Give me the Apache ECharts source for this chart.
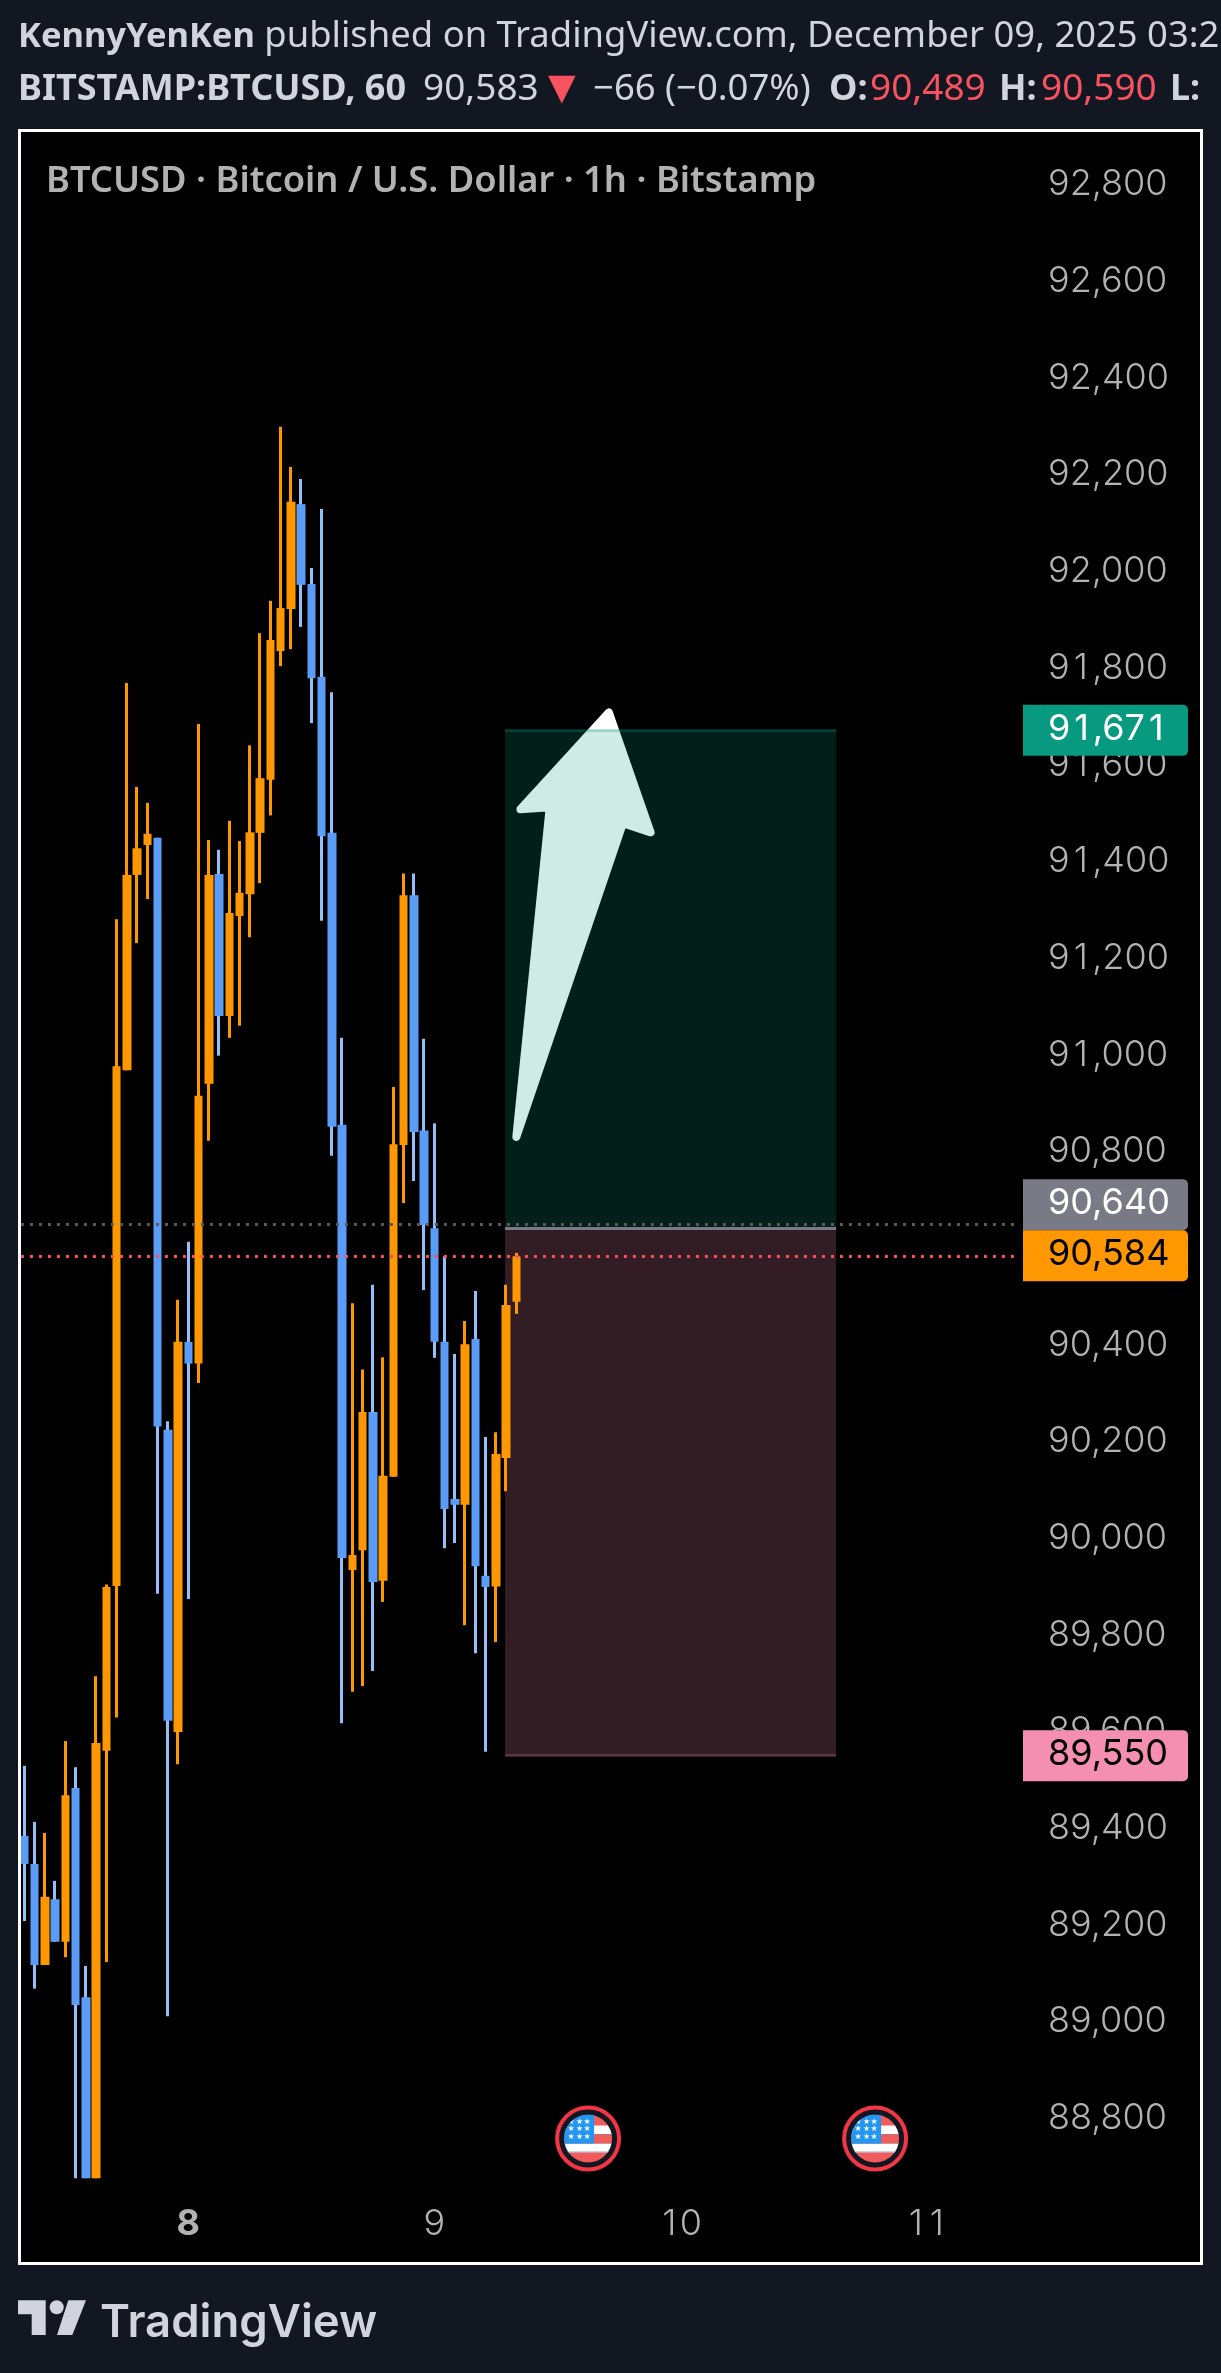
<!DOCTYPE html>
<html>
<head>
<meta charset="utf-8">
<title>BTCUSD</title>
<script src="https://cdn.jsdelivr.net/npm/echarts@6/dist/echarts.min.js"></script>
<style>
  html, body { margin: 0; padding: 0; background: #131722; }
  #main { width: 1221px; height: 2373px; }
</style>
</head>
<body>
<div id="main"></div>
<script>
// hourly candles
var opens  = [89384,89326,89117,89253,89165,89483,89050,88676,89560,89901,90968,91372,91434,91449,90224,89599,90406,90361,90940,91374,91080,91287,91332,91459,91569,91835,91922,92139,91974,91782,91459,90855,89934,89975,90261,89912,90127,90813,91330,90843,90641,90406,90081,90069,90412,89922,89900,90166,90489];
var highs  = [89529,89413,89390,89291,89580,89526,89115,89714,89904,91280,91769,91554,91521,91449,90242,90493,90613,91684,91444,91424,91484,91442,91640,91872,91939,92299,92216,92191,92007,92129,91750,91035,90486,90349,90524,90374,90933,91375,91375,91033,90858,90583,90381,90449,90511,90209,90219,90524,90590];
var lows   = [89208,89068,89117,89165,89133,88676,88676,88676,89123,89629,90968,91231,91322,89885,89011,89532,89874,90321,90822,90998,91035,91060,91243,91355,91495,91804,91839,91885,91686,91277,90791,89617,89682,89694,89725,89868,90127,90693,90739,90513,90373,89979,89990,89820,89762,89558,89785,90097,90464];
var closes = [89326,89117,89258,89165,89468,89034,88676,89576,89899,90976,91372,91427,91457,90231,89622,90406,90361,90915,91372,91080,91293,91335,91460,91572,91858,91924,92144,91972,91779,91452,90851,89959,89965,90261,89909,90129,90815,91330,90840,90648,90406,90060,90069,90401,89942,89899,90174,90482,90583];

var dayTicks  = [16, 40, 64, 88];
var dayLabels = ['8', '9', '10', '11'];

// long position drawing
var zoneStart = 46.9, zoneEnd = 79.2;
var targetPrice = 91671, entryPrice = 90640, stopPrice = 89550;
var lastPrice = 90583, prevClose = 90650;

// hand drawn arrow, [hour, price]
var arrowPoints = [[57.03,91708],[61.1,91460],[58.4,91479],[48.0,90830],[51.26,91512],[48.4,91508]];

var eventHours = [55, 83];

var boxPrices = [91671, 90640, 90584, 89550];
var boxTexts  = ['91,671', '90,640', '90,584', '89,550'];
var boxFills  = ['#089981', '#787b86', '#ff9800', '#f48fb1'];
var boxInks   = ['#ffffff', '#ffffff', '#000000', '#000000'];
var boxShift  = [0, -24, 0, 0];

var pageBg = '#131722';
var headInk = '#d1d4dc';
var axisInk = '#b2b2b2';
var orange = '#ff9800', blue = '#5b9cf6', blueWick = '#90bff9';
var red = '#f7525f';

var wickData = opens.map(function (o, i) { return [i, o, closes[i], lows[i], highs[i]]; });
var bodyData = opens.map(function (o, i) {
  return [i, o, closes[i], Math.min(o, closes[i]), Math.max(o, closes[i])];
});

// Inter's 1 is narrow, the scale in the picture has equal width digits
function wideOnes(s) { return s.replace(/1/g, '{o|1}'); }

function renderArrow(params, api) {
  var pts = arrowPoints.map(function (p) { return api.coord(p); });
  return {
    type: 'polygon',
    shape: { points: pts },
    style: { fill: '#ffffff', stroke: '#ffffff', lineWidth: 8, lineJoin: 'round' }
  };
}

function renderBox(params, api) {
  var i = params.dataIndex;
  var y = api.coord([0, boxPrices[i]])[1] + boxShift[i];
  return {
    type: 'group',
    children: [
      { type: 'rect', shape: { x: 1023, y: y - 25.5, width: 165, height: 51, r: [0, 5, 5, 0] }, style: { fill: boxFills[i] } },
      {
        type: 'text',
        style: {
          text: wideOnes(boxTexts[i]), x: 1048, y: y - 1.5, fill: boxInks[i], font: '400 36px Inter', align: 'left', verticalAlign: 'middle',
          rich: { o: { width: 22.5, align: 'center', fill: boxInks[i], font: '400 36px Inter' } }
        }
      }
    ]
  };
}

function renderFlag(params, api) {
  var cx = api.coord([eventHours[params.dataIndex], 90000])[0];
  var cy = 2138.6;
  var stripes = [
    [-24, -24, 48, 12, '#f15b5b'], [-24, -13, 48, 9, '#ffffff'], [-24, -4, 48, 9, '#f15b5b'],
    [-24, 5, 48, 9, '#ffffff'], [-24, 14, 48, 11, '#f15b5b'], [-24, 12.5, 48, 1.5, '#d1d4dc'],
    [-24, -24, 30, 29, '#2196f3']
  ];
  var kids = stripes.map(function (s) {
    return { type: 'rect', shape: { x: cx + s[0], y: cy + s[1], width: s[2], height: s[3] }, style: { fill: s[4] } };
  });
  [-17, -8.5, -1].forEach(function (dx) {
    [-17, -9.4, -1.7].forEach(function (dy) {
      kids.push({ type: 'text', style: { text: '\u2605', x: cx + dx, y: cy + dy, fill: '#ffffff', font: '8px "DejaVu Sans"', align: 'center', verticalAlign: 'middle' } });
    });
  });
  return {
    type: 'group',
    children: [
      { type: 'circle', shape: { cx: cx, cy: cy, r: 31 }, style: { fill: pageBg, stroke: '#f23645', lineWidth: 4 } },
      { type: 'group', children: kids, clipPath: { type: 'circle', shape: { cx: cx, cy: cy, r: 24 } } }
    ]
  };
}

function headPart(x, text, font, fill) {
  return { type: 'text', x: x, y: 89.5, style: { text: text, font: font, fill: fill, verticalAlign: 'middle' } };
}

var boldFont = '700 36px "Noto Sans"', thinFont = '400 37px "Noto Sans"';

var option = {
  animation: false,
  backgroundColor: pageBg,
  grid: { left: 14.05, top: 87.92, width: 1000.45, height: 2126.96 },
  xAxis: {
    type: 'value',
    min: -1,
    max: 96.6,
    splitLine: { show: false },
    axisLine: { show: false },
    axisTick: { show: false },
    axisLabel: {
      customValues: dayTicks,
      margin: 9,
      verticalAlign: 'middle',
      color: axisInk,
      fontFamily: 'Inter',
      fontWeight: 350,
      fontSize: 36,
      formatter: function (v) {
        var s = dayLabels[dayTicks.indexOf(v)];
        return v === dayTicks[0] ? '{b|' + s + '}' : wideOnes(s);
      },
      rich: {
        b: { fontFamily: 'Inter', fontSize: 36, fontWeight: 'bold', color: axisInk },
        o: { fontFamily: 'Inter', fontSize: 36, fontWeight: 350, color: axisInk, width: 21, align: 'center' }
      }
    }
  },
  yAxis: {
    type: 'value',
    position: 'right',
    min: 88600,
    max: 93000,
    interval: 200,
    splitLine: { show: false },
    axisLine: { show: false },
    axisTick: { show: false },
    axisLabel: {
      showMinLabel: false,
      showMaxLabel: false,
      margin: 33.5,
      align: 'left',
      verticalAlign: 'middle',
      color: axisInk,
      fontFamily: 'Inter',
      fontWeight: 350,
      fontSize: 36,
      // 90,600 sits fully behind the price boxes
      formatter: function (v) { return v === 90600 ? '' : wideOnes(v.toLocaleString('en-US')); },
      rich: { o: { fontFamily: 'Inter', fontSize: 36, fontWeight: 350, color: axisInk, width: 22.5, align: 'center' } }
    }
  },
  series: [
    { type: 'custom', name: 'arrow', z: 0, silent: true, renderItem: renderArrow, data: [[zoneStart, entryPrice]] },
    {
      type: 'candlestick',
      name: 'wicks',
      z: 2,
      barWidth: 1,
      encode: { x: 0, y: [1, 2, 3, 4] },
      itemStyle: { color: orange, color0: blueWick, borderColor: orange, borderColor0: blueWick, borderWidth: 3 },
      data: wickData,
      markArea: {
        silent: true,
        z: 1,
        data: [
          [{ xAxis: zoneStart, yAxis: targetPrice, itemStyle: { color: 'rgba(8,153,129,0.2)' } }, { xAxis: zoneEnd, yAxis: entryPrice }],
          [{ xAxis: zoneStart, yAxis: entryPrice, itemStyle: { color: 'rgba(244,143,177,0.2)' } }, { xAxis: zoneEnd, yAxis: stopPrice }]
        ]
      },
      markLine: {
        silent: true,
        z: 1,
        symbol: 'none',
        label: { show: false },
        data: [
          [{ xAxis: zoneStart, yAxis: targetPrice, lineStyle: { color: 'rgba(8,153,129,0.3)', width: 3, type: 'solid' } }, { xAxis: zoneEnd, yAxis: targetPrice }],
          [{ xAxis: zoneStart, yAxis: entryPrice, lineStyle: { color: '#787b86', width: 3, type: 'solid' } }, { xAxis: zoneEnd, yAxis: entryPrice }],
          [{ xAxis: zoneStart, yAxis: stopPrice, lineStyle: { color: 'rgba(244,143,177,0.25)', width: 3, type: 'solid' } }, { xAxis: zoneEnd, yAxis: stopPrice }]
        ]
      }
    },
    {
      type: 'candlestick',
      name: 'bodies',
      z: 3,
      barWidth: 9,
      encode: { x: 0, y: [1, 2, 3, 4] },
      itemStyle: { color: orange, color0: blue, borderColor: orange, borderColor0: blue, borderWidth: 0 },
      data: bodyData,
      markLine: {
        silent: true,
        z: 5,
        symbol: 'none',
        label: { show: false },
        data: [
          [{ xAxis: -0.33, yAxis: prevClose, lineStyle: { color: '#5a5a5a', width: 3, type: [3, 6] } }, { xAxis: 96.6, yAxis: prevClose }],
          [{ xAxis: -0.33, yAxis: lastPrice, lineStyle: { color: '#ff4d5e', width: 3, type: [3, 6] } }, { xAxis: 96.6, yAxis: lastPrice }]
        ]
      }
    },
    { type: 'custom', name: 'events', z: 6, silent: true, renderItem: renderFlag, data: eventHours.map(function (h) { return [h, 90000]; }) },
    { type: 'custom', name: 'price boxes', z: 10, silent: true, renderItem: renderBox, data: boxPrices.map(function (p) { return [90, p]; }) }
  ],
  graphic: [
    { type: 'rect', z: -10, silent: true, shape: { x: 21, y: 132, width: 1179, height: 2130 }, style: { fill: '#000000' } },
    { type: 'rect', z: 100, silent: true, shape: { x: 19.5, y: 130.5, width: 1182, height: 2133 }, style: { fill: 'none', stroke: '#ffffff', lineWidth: 3 } },
    {
      type: 'text', x: 18, y: 37,
      style: {
        text: '{b|KennyYenKen}{r| published on TradingView.com, December 09, 2025 03:2}',
        verticalAlign: 'middle',
        rich: {
          b: { font: '700 34.5px "Noto Sans"', fill: headInk },
          r: { font: '400 36.4px "Noto Sans"', fill: headInk }
        }
      }
    },
    headPart(18, 'BITSTAMP:BTCUSD, 60', boldFont, headInk),
    headPart(423, '90,583', thinFont, headInk),
    headPart(548, '\u25BC', '400 36px "DejaVu Sans"', red),
    headPart(593, '\u221266 (\u22120.07%)', '400 36.5px "Noto Sans"', headInk),
    headPart(829, 'O:', boldFont, headInk),
    headPart(870, '90,489', thinFont, red),
    headPart(999, 'H:', boldFont, headInk),
    headPart(1041, '90,590', thinFont, red),
    headPart(1170, 'L:', boldFont, headInk),
    {
      type: 'text', x: 46, y: 182,
      style: { text: 'BTCUSD \u00B7 Bitcoin / U.S. Dollar \u00B7 1h \u00B7 Bitstamp', font: '600 36.3px "Noto Sans"', fill: axisInk, verticalAlign: 'middle' }
    },
    // TradingView mark
    { type: 'polygon', silent: true, shape: { points: [[18,2300.3],[45.7,2300.3],[45.7,2335],[31.7,2335],[31.7,2314.3],[18,2314.3]] }, style: { fill: headInk } },
    { type: 'circle', silent: true, shape: { cx: 56.7, cy: 2307.3, r: 7 }, style: { fill: headInk } },
    { type: 'polygon', silent: true, shape: { points: [[68.3,2300.3],[86,2300.3],[72.3,2335],[57,2335]] }, style: { fill: headInk } },
    { type: 'text', x: 100, y: 2346, style: { text: 'TradingView', font: '600 45.5px Inter', fill: headInk, verticalAlign: 'bottom' } }
  ]
};

var chart = echarts.init(document.getElementById('main'));
chart.setOption(option);
</script>
</body>
</html>
